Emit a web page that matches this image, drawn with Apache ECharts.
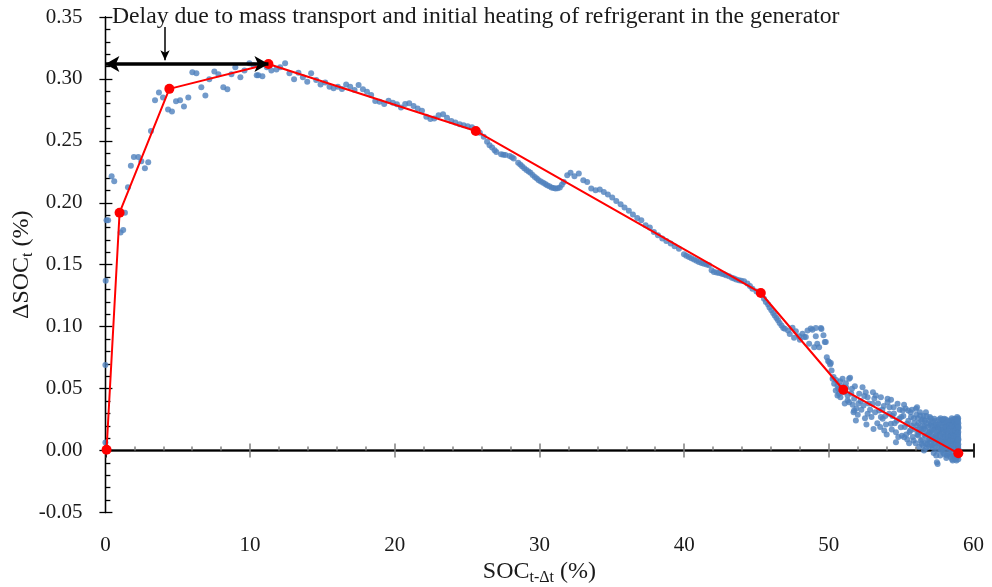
<!DOCTYPE html>
<html>
<head>
<meta charset="utf-8">
<script src="https://cdn.jsdelivr.net/npm/echarts@6/dist/echarts.min.js"></script>
<style>
  html, body { margin: 0; padding: 0; background: #fff; }
  #chart { width: 992px; height: 587px; }
</style>
</head>
<body>
<div id="chart"></div>
<script>
// Axis settings
const xMin = 0, xMax = 60, xStep = 10;
const yMin = -0.05, yMax = 0.35, yStep = 0.05;

// Measured state-of-charge increments: [SOC(t-Δt) %, ΔSOC(t) %]
const measuredStart = [
  [0.0,0.0065],[0.0,0.069],[0.02,0.137],[0.08,0.186],[0.19,0.186],[0.43,0.2215],[0.61,0.2175],
  [1.05,0.176],[1.23,0.178],[1.35,0.192],[1.56,0.2126],[1.76,0.230],[1.97,0.237],[2.27,0.237],
  [2.48,0.2336],[2.73,0.228],[2.96,0.2328],[3.15,0.258],[3.43,0.2827],[3.70,0.289],[3.98,0.285],
  [4.33,0.2754],[4.60,0.2738],[4.88,0.2819],[5.16,0.2827],[5.43,0.2778],[5.73,0.285],[6.01,0.3053],
  [6.29,0.3045],[6.63,0.2932],[6.91,0.2867],[7.18,0.2997],[7.53,0.3061],[7.81,0.3037],[8.15,0.2932],
  [8.43,0.2916],[8.71,0.3037],[8.98,0.3094],[9.33,0.3013],[9.61,0.3069],[9.95,0.3126],[10.23,0.311],
  [10.46,0.303],[10.57,0.3029],[10.85,0.3021],[11.16,0.3094],[11.47,0.3069],[11.82,0.3077]
];

const measuredPlateau = [
  [12.08,0.3094],[12.42,0.3126],[12.72,0.3045],[13.04,0.2997],[13.34,0.305],[13.65,0.3013],
  [13.95,0.2977],[14.22,0.3045],[14.57,0.2991],[14.87,0.2956],[15.19,0.2972],[15.49,0.2937],
  [15.77,0.2924],[16.07,0.2937],[16.35,0.2918],[16.64,0.2956],[16.92,0.2937],[17.22,0.291],
  [17.5,0.2951],[17.8,0.2916],[18.08,0.2897],[18.37,0.287],[18.65,0.2821],[18.95,0.2816],
  [19.27,0.2797],[19.57,0.2824],[19.87,0.2808],[20.15,0.2795],[20.43,0.277],[20.72,0.2797],
  [21.0,0.2803],[21.3,0.2781],[21.58,0.2762],[21.88,0.2743],[22.18,0.2694],[22.46,0.2676],
  [22.73,0.2681],[23.03,0.2706],[23.34,0.2714],[23.61,0.2686],[23.91,0.266],[24.19,0.2649],
  [24.49,0.2635],[24.76,0.2627],[25.04,0.2619],[25.34,0.2609],[25.88,0.2565]
];

const measuredDecline = [
  [26.15,0.2533],[26.38,0.2492],[26.55,0.2465],[26.73,0.2447],[26.9,0.2425],[27.02,0.2411],
  [27.35,0.2393],[27.5,0.2388],[27.65,0.2385],[27.94,0.2377],[28.1,0.2368],[28.22,0.2358],
  [28.53,0.2323],[28.67,0.231],[28.8,0.2296],[28.95,0.228],[29.1,0.2264],[29.25,0.2253],
  [29.38,0.2242],[29.53,0.2225],[29.68,0.2209],[29.82,0.2196],[29.95,0.2183],[30.1,0.2172],
  [30.26,0.2161],[30.4,0.2152],[30.53,0.2142],[30.68,0.2133],[30.83,0.2124],[30.97,0.212],
  [31.11,0.2115],[31.26,0.2118],[31.41,0.2124],[31.55,0.2145],[31.68,0.2169],[31.92,0.2223],
  [32.15,0.2242],[32.42,0.2215],[32.72,0.2237],[33.03,0.2183],[33.3,0.2169],[33.58,0.2115],
  [33.88,0.2102],[34.17,0.2107],[34.45,0.2088],[34.73,0.2067],[35.03,0.2043],[35.31,0.2015],
  [35.61,0.1989],[35.88,0.1962],[36.18,0.1935],[36.46,0.1905],[36.76,0.1878],[37.04,0.1859],
  [37.34,0.1819],[37.63,0.18],[37.91,0.1765],[38.19,0.1738],[38.49,0.1711],[38.77,0.1692],
  [39.07,0.1671],[39.34,0.1649],[39.64,0.163],[39.99,0.1585],[40.15,0.1572],[40.33,0.1563],
  [40.5,0.1552],[40.68,0.1542],[40.85,0.1532],[41.02,0.1522],[41.2,0.1515],[41.37,0.1509],
  [41.55,0.1502],[41.72,0.1496],[41.9,0.1455],[42.06,0.1441],[42.25,0.1438],[42.41,0.1433],
  [42.6,0.1428],[42.75,0.1423],[42.9,0.1415],[43.1,0.1407],[43.3,0.1396],[43.45,0.1388],
  [43.6,0.138],[43.79,0.1374],[43.95,0.137],[44.14,0.1366],[44.37,0.1348],[44.55,0.1328],
  [44.72,0.1307],[45.0,0.1285]
];

const measuredKnee = [
  [45.52,0.1226],[45.65,0.120],[45.8,0.118],[45.9,0.1155],[46.03,0.1132],[46.15,0.111],
  [46.26,0.1091],[46.38,0.107],[46.49,0.1051],[46.6,0.103],[46.73,0.101],[46.85,0.099],
  [46.96,0.0983],[47.18,0.097],[47.3,0.094],[47.49,0.0992],[47.6,0.091],[47.72,0.0964],
  [47.95,0.0922],[48.0,0.0895],[48.18,0.0943],[48.3,0.0916],[48.41,0.0916],[48.53,0.097],
  [48.64,0.0862],[48.75,0.0985],[48.87,0.0976],[48.99,0.0835],[49.1,0.0922],[49.1,0.099],
  [49.2,0.0862],[49.33,0.0835],[49.45,0.099],[49.49,0.0981],[49.63,0.093],[49.72,0.0876],
  [49.79,0.0876],[49.86,0.0754],[49.95,0.0722],[50.02,0.0714],[50.09,0.0695],[50.14,0.0706],
  [50.19,0.0647],[50.26,0.058],[50.33,0.0593],[50.37,0.0539],[50.48,0.0485],[50.6,0.0445],
  [50.6,0.0525],[50.71,0.0458],[50.78,0.056],[50.9,0.052],[51.05,0.047],[51.18,0.0544]
];

const measuredTail = [
  [51.3,0.0445],[51.3,0.0404],[51.4,0.039],[51.4,0.058],[51.47,0.0588],[51.6,0.05],[51.71,0.031],
  [51.75,0.0418],[51.75,0.0323],[51.87,0.0243],[51.9,0.034],[52.1,0.0458],[52.2,0.04],
  [52.33,0.0512],[52.4,0.0364],[52.5,0.026],[52.55,0.047],[52.68,0.0431],[52.68,0.0297],
  [52.85,0.033],[53.02,0.0378],[53.09,0.0175],[53.15,0.042],[53.25,0.0445],[53.35,0.022],
  [53.48,0.0323],[53.6,0.0431],[53.6,0.027],[53.72,0.0256],[53.8,0.036],[53.83,0.0162],
  [53.95,0.021],[54.06,0.039],[54.06,0.0418],[54.17,0.0297],[54.29,0.0216],[54.3,0.041],
  [54.4,0.028],[54.48,0.035],[54.55,0.022],[54.64,0.0148],[54.64,0.0067],[54.75,0.0378],
  [54.87,0.0256],[54.9,0.033],[54.98,0.0189],[55.05,0.012],[55.1,0.0323],[55.15,0.028],
  [55.21,0.0108],[55.25,0.019],[55.3,0.034],[55.4,0.0216],[55.42,0.009],[55.49,0.0323],
  [55.5,0.024],[55.58,0.015],[55.63,0.0162],[55.65,0.031],[55.68,0.027],[55.72,0.02],
  [55.8,0.011],[55.86,0.0081],[55.88,0.026],[55.95,0.017],[56.0,0.006],[56.02,0.0337],
  [56.05,0.029],[56.09,0.0202],[56.1,0.035],[56.12,0.013],[56.18,0.0121],[56.2,0.022],
  [56.25,0.003],[56.3,0.031],[56.32,0.0283],[56.38,0.017],[56.42,0.0054],[56.45,0.009],
  [56.5,0.025],[56.55,0.0175],[56.58,0.0],[56.62,0.02],[56.64,0.0243],[56.7,0.012],
  [56.71,0.031],[56.75,0.028],[56.8,0.005],[56.83,0.0081],[56.86,0.019],[56.9,0.024],
  [56.94,0.0148],[56.95,0.009],[57.0,0.015],[57.05,0.026],[57.06,0.0216],[57.1,0.004],
  [57.15,0.02],[57.18,0.0027],[57.2,0.011],[57.25,-0.002],[57.29,0.0256],[57.3,0.017],
  [57.35,0.024],[57.4,0.007],[57.4,0.0121],[57.45,0.013],[57.47,-0.0095],[57.5,0.0],
  [57.52,0.0189],[57.52,-0.0108],[57.55,0.021],[57.6,0.009],[57.63,0.0054],[57.65,0.016],
  [57.7,-0.004],[57.72,0.026],[57.75,0.0243],[57.78,0.004],[57.8,0.0],[57.82,0.019],
  [57.88,0.011],[57.92,-0.002],[57.94,0.0148],[57.96,0.022],[57.98,0.0256],[58.02,0.007],
  [58.05,0.016],[58.1,0.025],[58.1,0.0081],[58.12,-0.006],[58.17,-0.004],[58.18,0.012],
  [58.21,0.0202],[58.22,0.002],[58.25,0.019],[58.3,0.009],[58.33,0.0027],[58.35,-0.003],
  [58.38,0.023],[58.4,0.0121],[58.42,0.015],[58.44,0.0243],[58.46,0.005],[58.5,0.026],
  [58.52,-0.007],[58.55,0.011],[58.56,-0.0081],[58.58,0.018],[58.6,0.001],[58.63,0.0189],
  [58.64,0.022],[58.66,0.008],[58.67,0.0067],[58.7,-0.004],[58.72,0.014],[58.72,0.0256],
  [58.75,0.025],[58.78,0.004],[58.79,-0.0027],[58.8,0.019],[58.82,-0.008],[58.84,0.01],
  [58.86,0.024],[58.86,0.0148],[58.88,0.001],[58.9,0.016],[58.9,-0.005],[58.9,0.0229],
  [58.92,0.02],[58.92,0.007],[58.93,-0.002],[58.93,0.013],[58.94,0.026],[58.94,0.003],
  [58.95,0.018],[58.95,-0.007]
];

const measuredScatterBand = [
  [50.5,0.057],[50.65,0.05],[50.8,0.043],[50.95,0.058],[51.1,0.038],[51.2,0.051],[51.55,0.046],
  [51.65,0.037],[51.8,0.052],[52.0,0.029],[52.05,0.038],[52.25,0.033],[52.45,0.044],[52.6,0.021],
  [52.75,0.038],[52.95,0.027],[53.05,0.047],[53.2,0.031],[53.4,0.038],[53.55,0.019],[53.7,0.033],
  [53.9,0.028],[54.0,0.013],[54.2,0.035],[54.35,0.017],[54.5,0.03],[54.7,0.024],[54.8,0.011],
  [55.0,0.027],[55.2,0.037],[55.35,0.013],[55.55,0.006],[55.75,0.033],[55.9,0.022],
  [56.15,0.026],[56.35,0.008],[56.48,0.02],[56.6,0.013],[56.78,0.022],[56.92,0.003],[57.08,0.012],
  [57.22,0.023],[57.28,0.006],[57.38,0.019],[57.42,-0.004],[57.58,0.013],[57.62,0.025],[57.68,0.008],
  [57.75,0.017],[57.85,0.022],[57.86,0.002],[57.9,0.007],[58.0,0.018],[58.0,-0.003],[58.07,0.022],
  [58.08,0.002],[58.15,0.016],[58.2,0.008],[58.27,0.024],[58.28,-0.002],[58.32,0.014],[58.37,0.005],
  [58.45,0.019],[58.48,0.0],[58.53,0.008],[58.57,0.022],[58.6,0.014],[58.62,-0.004],[58.68,0.019],
  [58.7,0.002],[58.74,0.009],[58.77,0.021],[58.81,0.013],[58.83,-0.001],[58.85,0.006],[58.87,0.027],
  [58.89,0.012],[58.91,0.004],[58.91,0.025],[58.93,0.009],[58.95,0.015],[58.95,0.022],[58.96,0.001],
  [58.96,-0.004],[57.95,0.012],[57.55,0.004],[57.12,0.016],[56.68,0.006],[56.22,0.015],[57.32,0.01],
  [57.02,0.02],[56.55,0.028]
];

const measuredDenseEnd = [
  [56.28,0.018],[56.4,0.024],[56.52,0.004],[56.66,0.017],[56.73,0.002],[56.88,0.013],[56.98,0.027],
  [57.04,0.007],[57.16,0.009],[57.24,0.016],[57.34,0.003],[57.44,0.021],[57.48,0.009],[57.57,0.017],
  [57.66,0.021],[57.69,0.012],[57.74,0.001],[57.81,0.008],[57.84,0.014],[57.9,0.025],[57.93,0.017],
  [57.99,0.004],[58.04,0.011],[58.09,0.019],[58.14,0.005],[58.16,0.023],[58.24,0.011],[58.26,0.006],
  [58.31,0.02],[58.34,0.017],[58.39,0.008],[58.41,-0.005],[58.43,0.002],[58.47,0.012],[58.51,0.02],
  [58.54,0.015],[58.59,0.025],[58.61,0.009],[58.65,0.012],[58.69,0.023],[58.71,0.005],[58.73,-0.007],
  [58.76,0.016],[58.79,0.012],[58.81,0.023],[58.83,0.006],[58.85,0.018],[58.87,-0.003],[58.88,0.021],
  [58.89,0.008],[58.91,0.014],[58.92,0.024],[58.94,0.011],[58.95,0.005],[58.96,0.019],[58.96,0.009]
];

// Piecewise-linear fit through the breakpoints
const fitPoints = [
  [0.08,0.0006],[0.98,0.192],[4.42,0.292],[11.27,0.312],[25.6,0.258],
  [45.3,0.1272],[51.0,0.0491],[58.95,-0.0022]
];

// Annotation: delay span and its pointer
const delaySpan = [[0, 0.312], [11.27, 0.312]];
const delayPointer = [[4.12, 0.342], [4.12, 0.315]];
const delayNote = 'Delay due to mass transport and initial heating of refrigerant in the generator';

const measured = [].concat(measuredStart, measuredPlateau, measuredDecline,
  measuredKnee, measuredTail, measuredScatterBand, measuredDenseEnd);

const FONT = '"Liberation Serif", "DejaVu Serif", serif';
const TEXT = '#1a1a1a';

function xBase(extra) {
  return Object.assign({
    type: 'value', min: xMin, max: xMax, interval: xStep, position: 'bottom',
    splitLine: { show: false },
    axisLabel: { show: false },
    axisLine: { show: true, onZero: true, onZeroAxisIndex: 0, lineStyle: { color: '#000', width: 1.3 } },
    axisTick: { show: false },
    minorTick: { show: false }
  }, extra);
}
function yBase(extra) {
  return Object.assign({
    type: 'value', min: yMin, max: yMax, interval: yStep, position: 'left',
    splitLine: { show: false },
    axisLabel: { show: false },
    axisLine: { show: true, onZero: false, lineStyle: { color: '#000', width: 1.3 } },
    axisTick: { show: false },
    minorTick: { show: false }
  }, extra);
}

const subRich = {
  a: { fontFamily: FONT, fontSize: 24, color: TEXT, lineHeight: 28 },
  s: { fontFamily: FONT, fontSize: 16, color: TEXT, lineHeight: 15, verticalAlign: 'bottom' }
};

const chart = echarts.init(document.getElementById('chart'), null, { renderer: 'canvas' });

chart.setOption({
  animation: false,
  backgroundColor: '#fff',
  title: {
    text: delayNote,
    left: 112, top: 5, padding: 0,
    textStyle: { fontFamily: FONT, fontSize: 23.7, fontWeight: 'normal', color: TEXT }
  },
  grid: {
    left: 105.4, right: 18.5, top: 17, bottom: 74.5,
    containLabel: false,
    outerBoundsMode: 'none'
  },
  xAxis: [
    // axis line through zero with downward grey ticks
    xBase({
      axisTick: { show: true, inside: false, length: 7, lineStyle: { color: '#808080', width: 1.5 } }
    }),
    // upward ticks and minor ticks
    xBase({
      axisTick: { show: true, inside: true, length: 7, lineStyle: { color: '#808080', width: 1.5 } },
      minorTick: { show: true, splitNumber: 5, length: 4, lineStyle: { color: '#808080', width: 1.5 } }
    }),
    // labels and title at the bottom of the plot
    xBase({
      axisLine: { show: false, onZero: false },
      axisLabel: { show: true, margin: 22, fontFamily: FONT, fontSize: 21, color: TEXT },
      name: '{a|SOC}{s|t-Δt}{a| (%)}',
      nameLocation: 'middle',
      nameGap: 45,
      nameMoveOverlap: false,
      nameTextStyle: { fontFamily: FONT, fontSize: 24, color: TEXT, rich: subRich }
    }),
    // black end ticks crossing the axis
    xBase({
      interval: 60,
      axisTick: { show: true, inside: false, length: 7, lineStyle: { color: '#000', width: 1.5 } }
    }),
    xBase({
      interval: 60,
      axisTick: { show: true, inside: true, length: 7, lineStyle: { color: '#000', width: 1.5 } }
    })
  ],
  yAxis: [
    yBase({
      axisTick: { show: true, inside: false, length: 6, lineStyle: { color: '#000', width: 1.3 } },
      axisLabel: {
        show: true, margin: 23, fontFamily: FONT, fontSize: 21, color: TEXT,
        formatter: v => v.toFixed(2)
      },
      name: '{a|ΔSOC}{s|t}{a| (%)}',
      nameLocation: 'middle',
      nameRotate: 90,
      nameGap: 70,
      nameMoveOverlap: false,
      nameTextStyle: { fontFamily: FONT, fontSize: 24, color: TEXT, rich: subRich }
    }),
    yBase({
      axisTick: { show: true, inside: true, length: 7, lineStyle: { color: '#000', width: 1.3 } },
      minorTick: { show: true, splitNumber: 5, length: 5, lineStyle: { color: '#000', width: 1.3 } }
    })
  ],
  series: [
    {
      name: 'Measured',
      type: 'scatter',
      xAxisIndex: 0, yAxisIndex: 0,
      data: measured,
      symbol: 'circle',
      symbolSize: 6,
      itemStyle: { color: '#4f81bd' },
      silent: true,
      z: 2
    },
    {
      name: 'Fit',
      type: 'line',
      xAxisIndex: 0, yAxisIndex: 0,
      data: fitPoints,
      symbol: 'circle',
      symbolSize: 10,
      showAllSymbol: true,
      lineStyle: { color: '#ff0000', width: 2 },
      itemStyle: { color: '#ff0000', borderWidth: 0 },
      silent: true,
      z: 3,
      markLine: {
        silent: true,
        label: { show: false },
        emphasis: { disabled: true },
        data: [
          [
            { coord: delaySpan[0], symbol: 'arrow', symbolSize: [12, 14],
              lineStyle: { color: '#000', width: 3.5, type: 'solid' } },
            { coord: delaySpan[1], symbol: 'arrow', symbolSize: [12, 14] }
          ],
          [
            { coord: delayPointer[0], symbol: 'none',
              lineStyle: { color: '#000', width: 1.5, type: 'solid' } },
            { coord: delayPointer[1], symbol: 'arrow', symbolSize: [7, 10] }
          ]
        ]
      }
    }
  ]
});
</script>
</body>
</html>
